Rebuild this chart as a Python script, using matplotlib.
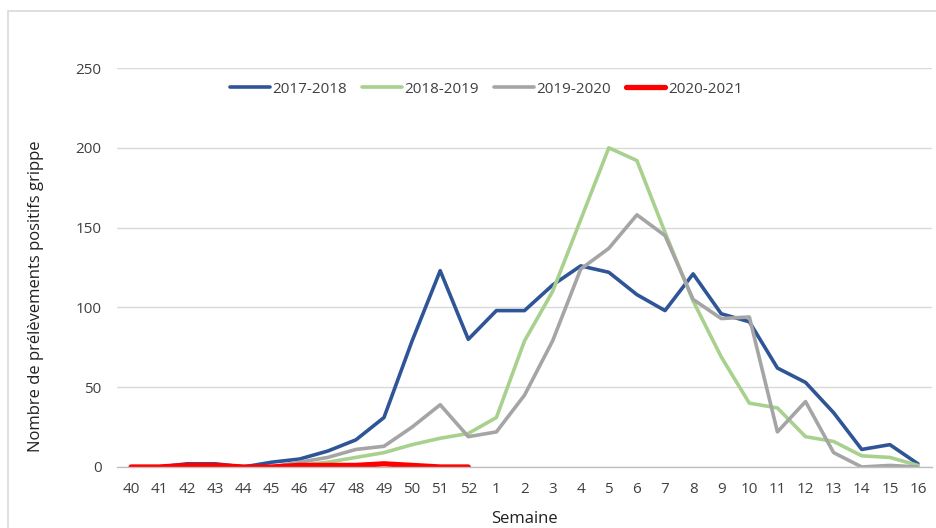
import matplotlib
matplotlib.use("Agg")
import matplotlib.pyplot as plt
import numpy as np
from matplotlib.patches import Rectangle

weeks = ["40", "41", "42", "43", "44", "45", "46", "47", "48", "49", "50", "51", "52",
         "1", "2", "3", "4", "5", "6", "7", "8", "9", "10", "11", "12", "13", "14", "15", "16"]

s_2017_2018 = [0, 0, 2, 2, 0, 3, 5, 10, 17, 31, 79, 123, 80, 98, 98, 114, 126, 122, 108, 98,
               121, 96, 91, 62, 53, 34, 11, 14, 2]
s_2018_2019 = [0, 0, 0, 0, 0, 0, 1, 3, 6, 9, 14, 18, 21, 31, 79, 110, 155, 200, 192, 147,
               104, 69, 40, 37, 19, 16, 7, 6, 1]
s_2019_2020 = [0, 0, 0, 0, 0, 0, 3, 6, 11, 13, 25, 39, 19, 22, 45, 79, 124, 137, 158, 145,
               105, 93, 94, 22, 41, 9, 0, 1, 0]
s_2020_2021 = [0, 0, 1, 1, 0, 0, 1, 1, 1, 2, 1, 0, 0]

series = [
    ("2017-2018", s_2017_2018, "#2F5597", 2.6),
    ("2018-2019", s_2018_2019, "#A9D18E", 2.6),
    ("2019-2020", s_2019_2020, "#A5A5A5", 2.6),
    ("2020-2021", s_2020_2021, "#FF0000", 3.8),
]

plt.rcParams['font.family'] = ['Open Sans', 'DejaVu Sans']
FS = 11

fig = plt.figure(figsize=(9.37, 5.28), dpi=100)
# outer frame
fig.patches.append(Rectangle((8/937, -0.1), 1.2, 1 - 11/528 + 0.1, transform=fig.transFigure,
                             fill=False, edgecolor="#D9D9D9", linewidth=1.2))

ax = fig.add_axes([117/937, 1 - 467/528, (932 - 117)/937, (467 - 68)/528])
x = np.arange(len(weeks))
for name, vals, col, lw in series:
    ax.plot(x[:len(vals)], vals, color=col, lw=lw, label=name, solid_capstyle='round',
            solid_joinstyle='round')

ax.set_xlim(-0.5, len(weeks) - 0.5)
ax.set_ylim(0, 250)
ax.set_yticks([0, 50, 100, 150, 200, 250])
ax.set_xticks(x)
ax.set_xticklabels(weeks)
ax.yaxis.grid(True, color="#D9D9D9", lw=1)
ax.set_axisbelow(True)
for s in ["top", "right", "left"]:
    ax.spines[s].set_visible(False)
ax.spines["bottom"].set_color("#BFBFBF")
ax.spines["bottom"].set_linewidth(1)
ax.tick_params(axis="both", length=0, labelsize=FS, colors="#404040")
ax.tick_params(axis="y", pad=11)
ax.tick_params(axis="x", pad=11)
ax.set_xlabel("Semaine", fontsize=12, color="#202020", labelpad=10)
ax.set_ylabel("Nombre de prélèvements positifs grippe", fontsize=12, color="#202020")
ax.yaxis.set_label_coords(-0.0896, 0.4286)

leg = ax.legend(loc="upper center", bbox_to_anchor=(0.453, 1.0), ncol=4, frameon=False,
                fontsize=FS, handlelength=2.6, handletextpad=0.15, columnspacing=1.0)
for t in leg.get_texts():
    t.set_color("#404040")

fig.savefig("out.png", dpi=100)
